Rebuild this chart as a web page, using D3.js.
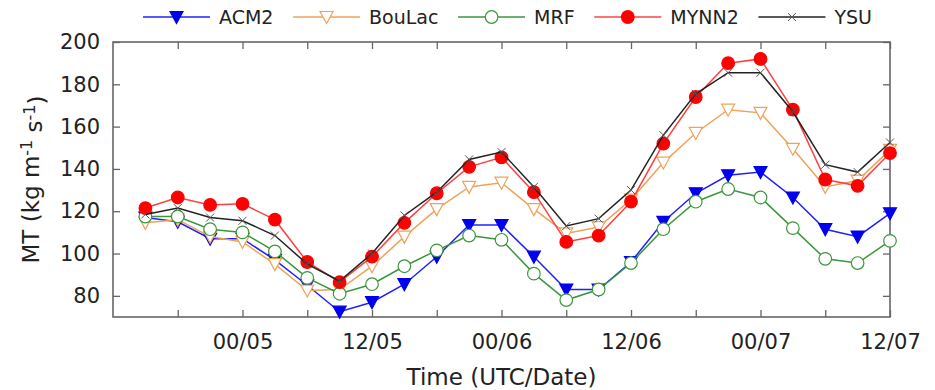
<!DOCTYPE html>
<html>
<head>
<meta charset="utf-8">
<script src="https://cdn.jsdelivr.net/npm/d3@7"></script>
<style>
  body { margin: 0; background: #fff; }
  text { font-family: "DejaVu Sans", sans-serif; fill: #222; }
</style>
</head>
<body>
<svg id="chart"></svg>
<script>
// hours since 12 UTC on day 04, one value every 3 h
var hours = [3, 6, 9, 12, 15, 18, 21, 24, 27, 30, 33, 36, 39, 42, 45, 48, 51, 54, 57, 60, 63, 66, 69, 72];

var acm2   = [117, 115, 107, 107, 97, 85, 72.5, 77, 85.5, 98.5, 113.5, 113.5, 98.5, 83, 83, 96, 115, 128.5, 137, 138.5, 126.5, 111.5, 108, 119];
var boulac = [114.5, 116, 108, 105.5, 95, 82.5, 83, 94, 108, 121, 131.5, 133.5, 121, 109.5, 112.5, 125.5, 143, 157, 168, 166.5, 149.5, 131.5, 134.5, 149];
var mrf    = [117.5, 117.5, 111.5, 110, 101, 88.5, 81, 85.5, 94, 101.5, 108.5, 106.5, 90.5, 78, 83, 95.5, 111.5, 124.5, 130.5, 126.5, 112, 97.5, 95.5, 106];
var mynn2  = [121.5, 126.5, 123, 123.5, 116, 96, 86.5, 98.5, 114.5, 128.5, 141, 145.5, 129, 105.5, 108.5, 124.5, 152, 174, 190, 192, 168, 135, 132, 147.5];
var ysu    = [118.5, 121.5, 117, 115.5, 108.5, 95, 87, 100, 118, 129, 144.5, 148, 131.5, 113, 116.5, 130, 156, 175.5, 185.5, 185.5, 167, 142, 138.5, 152.5];

var seriesNames = ["ACM2", "BouLac", "MRF", "MYNN2", "YSU"];

var xTickHours = [6, 12, 18, 24, 30, 36, 42, 48, 54, 60, 66, 72];
var xTickLabels = ["", "00/05", "", "12/05", "", "00/06", "", "12/06", "", "00/07", "", "12/07"];
var yTicks = [80, 100, 120, 140, 160, 180, 200];

var W = 935, H = 390;
var margin = {top: 42, right: 45, bottom: 73, left: 113},
    width = W - margin.left - margin.right,
    height = H - margin.top - margin.bottom;

var styles = {
  ACM2:   {line: "#2020ff", stroke: "#0000ee", fill: "#0000ee", marker: "tri"},
  BouLac: {line: "#eea35a", stroke: "#eea35a", fill: "#fff",    marker: "tri"},
  MRF:    {line: "#3a973a", stroke: "#3a973a", fill: "#fff",    marker: "circle"},
  MYNN2:  {line: "#ff4040", stroke: "#ff0000", fill: "#ff0000", marker: "circle"},
  YSU:    {line: "#222",    stroke: "#555",    fill: "none",    marker: "x"}
};

var data = [
  {name: "ACM2", values: acm2},
  {name: "BouLac", values: boulac},
  {name: "MRF", values: mrf},
  {name: "MYNN2", values: mynn2},
  {name: "YSU", values: ysu}
];

var x = d3.scaleLinear().domain([0, 72]).range([0, width]);
var y = d3.scaleLinear().domain([70, 200]).range([height, 0]);

var svg = d3.select("#chart").attr("width", W).attr("height", H);
var g = svg.append("g").attr("transform", "translate(" + margin.left + "," + margin.top + ")");

function markerPath(type) {
  if (type === "tri") return "M-6.5,-5.5L6.5,-5.5L0,6.5Z";
  if (type === "x") return "M-4,-4L4,4M-4,4L4,-4";
  return null;
}

function drawMarker(sel, st) {
  if (st.marker === "circle") {
    sel.append("circle").attr("r", 6.3)
      .attr("fill", st.fill).attr("stroke", st.stroke).attr("stroke-width", 1.2);
  } else {
    sel.append("path").attr("d", markerPath(st.marker))
      .attr("fill", st.fill).attr("stroke", st.stroke).attr("stroke-width", st.marker === "x" ? 1 : 1.2);
  }
}

// axes with inward ticks on all four sides
var xAxis = d3.axisBottom(x).tickValues(xTickHours).tickSize(-7).tickPadding(17)
  .tickFormat(function(d, i) { return xTickLabels[i]; });
var xAxisTop = d3.axisTop(x).tickValues(xTickHours).tickSize(-7).tickFormat("");
var yAxis = d3.axisLeft(y).tickValues(yTicks).tickSize(-7).tickPadding(13);
var yAxisRight = d3.axisRight(y).tickValues(yTicks).tickSize(-7).tickFormat("");

g.append("g").attr("class", "x axis").attr("transform", "translate(0," + height + ")").call(xAxis);
g.append("g").attr("class", "x axis").call(xAxisTop);
g.append("g").attr("class", "y axis").call(yAxis);
g.append("g").attr("class", "y axis").attr("transform", "translate(" + width + ",0)").call(yAxisRight);

g.selectAll(".axis .domain").remove();
g.selectAll(".axis line").attr("stroke", "#666").attr("stroke-width", 1.3);
g.selectAll(".axis text").style("font-size", "21px").attr("fill", "#222");

g.append("rect")
  .attr("width", width).attr("height", height)
  .attr("fill", "none").attr("stroke", "#666").attr("stroke-width", 1.6);

var line = d3.line()
  .x(function(d, i) { return x(hours[i]); })
  .y(function(d) { return y(d); });

data.forEach(function(s) {
  var st = styles[s.name];
  var sg = g.append("g");
  sg.append("path").datum(s.values)
    .attr("fill", "none").attr("stroke", st.line).attr("stroke-width", 1.5)
    .attr("d", line);
  sg.selectAll(".pt").data(s.values).enter().append("g")
    .attr("transform", function(d, i) { return "translate(" + x(hours[i]) + "," + y(d) + ")"; })
    .each(function() { drawMarker(d3.select(this), st); });
});

// axis titles
svg.append("text")
  .attr("x", margin.left + width / 2).attr("y", 385)
  .attr("text-anchor", "middle").style("font-size", "23px")
  .text("Time (UTC/Date)");

var yt = svg.append("text")
  .attr("transform", "translate(31," + (margin.top + height / 2) + ") rotate(-90)")
  .attr("text-anchor", "middle").attr("dy", "0.35em").style("font-size", "23px");
yt.append("tspan").text("MT (kg m");
yt.append("tspan").attr("dy", "-0.45em").style("font-size", "16px").text("-1");
yt.append("tspan").attr("dy", "0.45em").text(" s");
yt.append("tspan").attr("dy", "-0.45em").style("font-size", "16px").text("-1");
yt.append("tspan").attr("dy", "0.45em").text(")");

// legend
var legStart = 143, legEnd = 872, handle = 67, pad = 9;
var leg = svg.append("g").attr("transform", "translate(0,17)");
var items = seriesNames.map(function(n) {
  var it = leg.append("g");
  var st = styles[n];
  it.append("line").attr("x1", 0).attr("x2", handle)
    .attr("stroke", st.line).attr("stroke-width", 1.5);
  drawMarker(it.append("g").attr("transform", "translate(" + handle / 2 + ",0)"), st);
  var t = it.append("text").attr("x", handle + pad).attr("dy", "0.35em")
    .style("font-size", "19px").text(n);
  return {g: it, w: handle + pad + t.node().getComputedTextLength()};
});
var total = d3.sum(items, function(d) { return d.w; });
var gap = (legEnd - legStart - total) / (items.length - 1);
var cx = legStart;
items.forEach(function(it) {
  it.g.attr("transform", "translate(" + cx + ",0)");
  cx += it.w + gap;
});
</script>
</body>
</html>
